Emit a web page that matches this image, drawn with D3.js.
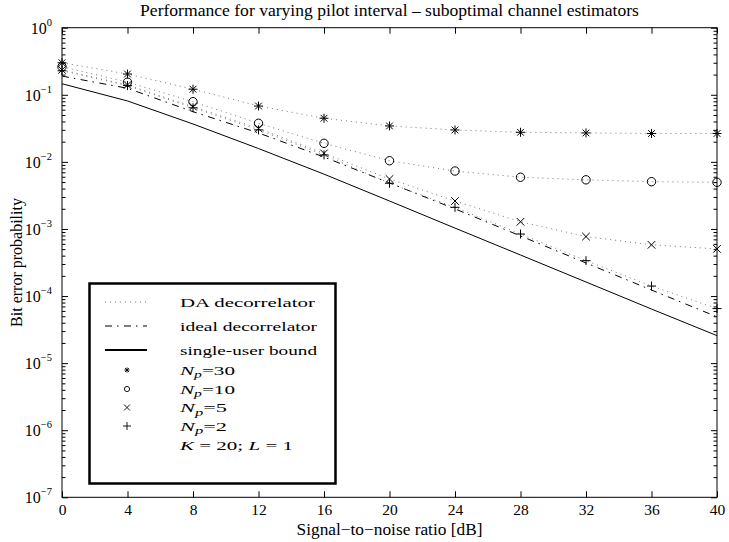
<!DOCTYPE html>
<html>
<head>
<meta charset="utf-8">
<script src="https://cdn.jsdelivr.net/npm/d3@7"></script>
<style>
  html, body { margin: 0; padding: 0; background: #fff; }
  svg { display: block; }
  text { font-family: "Liberation Serif", "Times New Roman", serif; fill: #000; }
</style>
</head>
<body>
<svg id="chart" width="729" height="542"></svg>
<script>
// SNR grid [dB]
const snr = [0, 4, 8, 12, 16, 20, 24, 28, 32, 36, 40];
const xTicks = [0, 4, 8, 12, 16, 20, 24, 28, 32, 36, 40];
const yDecades = [0, -1, -2, -3, -4, -5, -6, -7];

// Bit error probability per curve
const berNp30 = [0.30, 0.204, 0.121, 0.068, 0.0447, 0.0343, 0.0299, 0.0276, 0.0270, 0.0265, 0.0265];
const berNp10 = [0.262, 0.154, 0.0789, 0.0376, 0.0189, 0.0104, 0.0073, 0.0059, 0.0054, 0.00507, 0.00496];
const berNp5  = [0.235, 0.140, 0.0665, 0.0316, 0.0134, 0.00556, 0.00261, 0.00128, 0.00077, 0.00058, 0.000504];
const berNp2  = [0.228, 0.137, 0.0640, 0.0300, 0.0127, 0.0048, 0.0021, 0.00084, 0.000337, 0.000141, 0.000065];
const berIdeal = [0.19, 0.125, 0.056, 0.027, 0.0118, 0.00485, 0.00199, 0.000787, 0.000311, 0.000123, 0.000049];
const berBound = [0.146, 0.0809, 0.0367, 0.0158, 0.00656, 0.00261, 0.00103, 0.000409, 0.000162, 0.000064, 0.0000257];

const pilotSeries = [
  { np: "30", values: berNp30, marker: "star" },
  { np: "10", values: berNp10, marker: "circle" },
  { np: "5",  values: berNp5,  marker: "cross" },
  { np: "2",  values: berNp2,  marker: "plus" }
];

const titleText = "Performance for varying pilot interval \u2013 suboptimal channel estimators";
const xLabelText = "Signal\u2212to\u2212noise ratio [dB]";
const yLabelText = "Bit error probability";

const svg = d3.select("#chart");
const plotLeft = 62, plotRight = 717, plotTop = 27.7, plotBottom = 497.3;

const x = d3.scaleLinear().domain([0, 40]).range([plotLeft, plotRight]);
const y = d3.scaleLog().domain([1e-7, 1]).range([plotBottom, plotTop]);

const dotted = "1,4";
const dashDot = "7,5,1.5,5.5";

// fit a text element's font size to a target width
function fitWidth(sel, target) {
  const base = parseFloat(sel.style("font-size"));
  const w = sel.node().getComputedTextLength();
  sel.style("font-size", (base * target / w) + "px");
}

// ---- axes ----
const minorVals = [];
for (let e = -7; e < 0; e++) for (let m = 2; m <= 9; m++) minorVals.push(m * Math.pow(10, e));
const majorVals = yDecades.map(e => Math.pow(10, e));

const gx = svg.append("g").attr("transform", `translate(0,${plotBottom})`)
  .call(d3.axisBottom(x).tickValues(xTicks).tickSizeInner(-6).tickSizeOuter(0).tickPadding(7).tickFormat(d3.format("d")));
const gxTop = svg.append("g").attr("transform", `translate(0,${plotTop})`)
  .call(d3.axisTop(x).tickValues(xTicks).tickSizeInner(-6).tickSizeOuter(0).tickFormat(() => ""));
const gyL = svg.append("g").attr("transform", `translate(${plotLeft},0)`)
  .call(d3.axisLeft(y).tickValues(majorVals).tickSizeInner(-6).tickSizeOuter(0).tickFormat(() => ""));
const gyLm = svg.append("g").attr("transform", `translate(${plotLeft},0)`)
  .call(d3.axisLeft(y).tickValues(minorVals).tickSizeInner(-3.5).tickSizeOuter(0).tickFormat(() => ""));
const gyR = svg.append("g").attr("transform", `translate(${plotRight},0)`)
  .call(d3.axisRight(y).tickValues(majorVals).tickSizeInner(-6).tickSizeOuter(0).tickFormat(() => ""));
const gyRm = svg.append("g").attr("transform", `translate(${plotRight},0)`)
  .call(d3.axisRight(y).tickValues(minorVals).tickSizeInner(-3.5).tickSizeOuter(0).tickFormat(() => ""));

[gx, gxTop, gyL, gyLm, gyR, gyRm].forEach(g => {
  g.select(".domain").remove();
  g.selectAll("line").attr("stroke", "#000").attr("stroke-width", 1);
});
gx.selectAll("text").attr("font-family", "Liberation Serif").attr("font-size", 15.5).attr("fill", "#000");

// y decade labels 10^e
const yl = svg.append("g");
yDecades.forEach(e => {
  const t = yl.append("text")
    .attr("x", 52).attr("y", y(Math.pow(10, e)) + 6)
    .attr("text-anchor", "end")
    .style("font-size", "16px");
  t.append("tspan").text("10");
  t.append("tspan").attr("dy", -8).style("font-size", "10.5px").text(e === 0 ? "0" : "\u2212" + (-e));
});

// plot frame
svg.append("rect")
  .attr("x", plotLeft).attr("y", plotTop).attr("width", plotRight - plotLeft).attr("height", plotBottom - plotTop)
  .attr("fill", "none").attr("stroke", "#000").attr("stroke-width", 1);

// ---- curves ----
const line = d3.line().x((d, i) => x(snr[i])).y(d => y(d));
const plot = svg.append("g");

plot.append("path").datum(berBound).attr("d", line)
  .attr("fill", "none").attr("stroke", "#000").attr("stroke-width", 1);
plot.append("path").datum(berIdeal).attr("d", line)
  .attr("fill", "none").attr("stroke", "#000").attr("stroke-width", 1).attr("stroke-dasharray", dashDot);
pilotSeries.forEach(s => {
  plot.append("path").datum(s.values).attr("d", line)
    .attr("fill", "none").attr("stroke", "#777").attr("stroke-width", 1).attr("stroke-dasharray", dotted);
});

function markerPath(kind, r) {
  const p = d3.path();
  if (kind === "plus" || kind === "star") {
    p.moveTo(-r, 0); p.lineTo(r, 0); p.moveTo(0, -r); p.lineTo(0, r);
  }
  if (kind === "cross" || kind === "star") {
    const q = kind === "star" ? r * 0.75 : r;
    p.moveTo(-q, -q); p.lineTo(q, q); p.moveTo(-q, q); p.lineTo(q, -q);
  }
  if (kind === "circle") {
    p.moveTo(r, 0); p.arc(0, 0, r, 0, 2 * Math.PI);
  }
  return p.toString();
}
const markerSize = { star: 4.5, circle: 4.2, cross: 3.8, plus: 4.5 };

pilotSeries.forEach(s => {
  plot.append("g").selectAll("path").data(s.values).join("path")
    .attr("transform", (d, i) => `translate(${x(snr[i])},${y(d)})`)
    .attr("d", markerPath(s.marker, markerSize[s.marker]))
    .attr("fill", "none").attr("stroke", "#000").attr("stroke-width", 1);
});

// ---- title and axis labels ----
const title = svg.append("text").attr("x", (plotLeft + plotRight) / 2).attr("y", 16)
  .attr("text-anchor", "middle").style("font-size", "13px").text(titleText);
fitWidth(title, 499);

const xl = svg.append("text").attr("x", (plotLeft + plotRight) / 2).attr("y", 535)
  .attr("text-anchor", "middle").style("font-size", "15px").text(xLabelText);
fitWidth(xl, 186);

const ylab = svg.append("text").attr("transform", "translate(22,262.5) rotate(-90)")
  .attr("text-anchor", "middle").style("font-size", "15px").text(yLabelText);
fitWidth(ylab, 129);

// ---- legend ----
const lg = svg.append("g");
lg.append("rect").attr("x", 89.5).attr("y", 283.5).attr("width", 246).attr("height", 200)
  .attr("fill", "#fff").attr("stroke", "#000").attr("stroke-width", 2.5);

const rowY = [302, 326, 350, 370, 389, 407.5, 426, 445];
const textX = 180;
const sampleX0 = 105, sampleX1 = 147, markX = 127;

const legendRows = [
  { kind: "line", dash: dotted, color: "#777", width: 1, label: "DA decorrelator", w: 135 },
  { kind: "line", dash: dashDot, color: "#000", width: 1, label: "ideal decorrelator", w: 137 },
  { kind: "line", dash: null, color: "#000", width: 2, label: "single-user bound", w: 137 },
  ...pilotSeries.map(s => ({ kind: "marker", marker: s.marker, np: s.np, w: s.np.length > 1 ? 55 : 47 })),
  { kind: "note", w: 113 }
];
const legendMarkerSize = { star: 2.6, circle: 2.6, cross: 3, plus: 4 };

legendRows.forEach((r, i) => {
  const yy = rowY[i];
  if (r.kind === "line") {
    const ln = lg.append("line").attr("x1", sampleX0).attr("x2", sampleX1).attr("y1", yy).attr("y2", yy)
      .attr("stroke", r.color).attr("stroke-width", r.width);
    if (r.dash) ln.attr("stroke-dasharray", r.dash);
  } else if (r.kind === "marker") {
    lg.append("path").attr("transform", `translate(${markX},${yy})`)
      .attr("d", markerPath(r.marker, legendMarkerSize[r.marker]))
      .attr("fill", "none").attr("stroke", "#000").attr("stroke-width", 0.9);
  }
  const t = lg.append("text").attr("x", textX).attr("y", yy + 4.5).style("font-size", "13.5px");
  if (r.kind === "line") {
    t.text(r.label);
  } else if (r.kind === "marker") {
    t.append("tspan").style("font-style", "italic").text("N");
    t.append("tspan").attr("dy", 3.5).style("font-style", "italic").style("font-size", "10px").text("p");
    t.append("tspan").attr("dy", -3.5).text("=" + r.np);
  } else {
    t.append("tspan").style("font-style", "italic").text("K");
    t.append("tspan").text(" = 20; ");
    t.append("tspan").style("font-style", "italic").text("L");
    t.append("tspan").text(" = 1");
  }
  t.attr("textLength", r.w).attr("lengthAdjust", "spacingAndGlyphs");
});
</script>
</body>
</html>
